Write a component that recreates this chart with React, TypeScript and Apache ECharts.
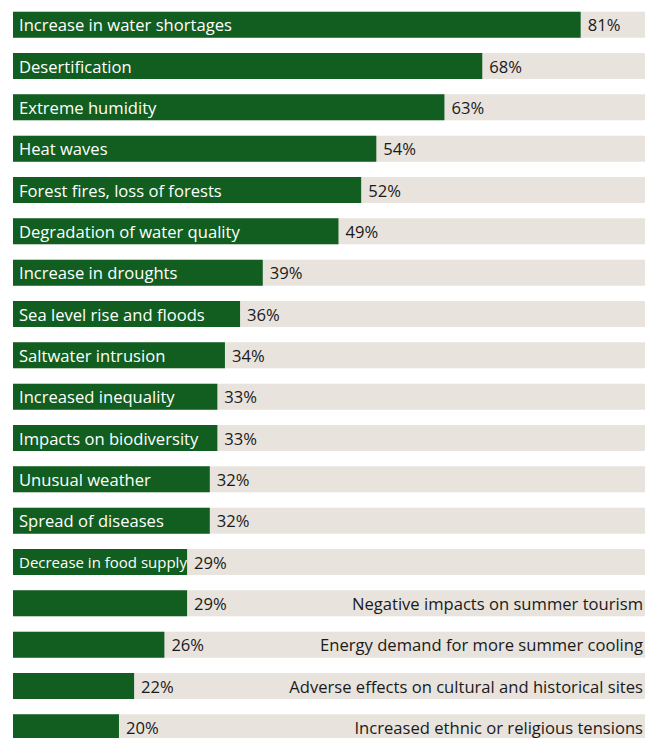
import React, { useEffect, useRef } from "react";
import * as echarts from "echarts";

const categories = [
  "Increase in water shortages",
  "Desertification",
  "Extreme humidity",
  "Heat waves",
  "Forest fires, loss of forests",
  "Degradation of water quality",
  "Increase in droughts",
  "Sea level rise and floods",
  "Saltwater intrusion",
  "Increased inequality",
  "Impacts on biodiversity",
  "Unusual weather",
  "Spread of diseases",
  "Decrease in food supply",
  "Negative impacts on summer tourism",
  "Energy demand for more summer cooling",
  "Adverse effects on cultural and historical sites",
  "Increased ethnic or religious tensions",
];

const values = [81, 68, 63, 54, 52, 49, 39, 36, 34, 33, 33, 32, 32, 29, 29, 26, 22, 20];

// the last four items carry their name on the right side of the track
const outsideNameCount = 4;
// names squeezed into a tight bar in the original
const condensedNames = ["Decrease in food supply"];

const AXIS_MIN = 6;
const AXIS_MAX = 89.5;

const GREEN = "#115e20";
const TRACK = "#e8e3dd";
const INK = "#1a1a1a";
const FONT = "'Open Sans', 'Noto Sans', sans-serif";
const FS = 16.6;

export default function App() {
  const ref = useRef<HTMLDivElement>(null);

  useEffect(() => {
    if (!ref.current) return;
    const chart = echarts.init(ref.current, undefined, { renderer: "svg" });
    const n = categories.length;
    const insideLimit = n - outsideNameCount;

    const greenData = values.map((v, i) =>
      condensedNames.includes(categories[i])
        ? { value: v, label: { fontSize: 15 } }
        : v
    );

    chart.setOption({
      animation: false,
      grid: { left: 13, right: 0, top: 4, bottom: 0, containLabel: false },
      xAxis: {
        type: "value",
        min: AXIS_MIN,
        max: AXIS_MAX,
        show: false,
      },
      yAxis: {
        type: "category",
        data: categories,
        inverse: true,
        show: false,
      },
      series: [
        {
          name: "track",
          type: "bar",
          barWidth: 26,
          barGap: "-100%",
          silent: true,
          z: 1,
          itemStyle: { color: TRACK },
          data: categories.map(() => AXIS_MAX),
          label: {
            show: true,
            position: "insideRight",
            distance: 2,
            color: INK,
            fontFamily: FONT,
            fontSize: FS,
            formatter: (p: any) => (p.dataIndex >= insideLimit ? categories[p.dataIndex] : ""),
          },
        },
        {
          name: "share",
          type: "bar",
          barWidth: 26,
          barGap: "-100%",
          z: 2,
          itemStyle: { color: GREEN },
          data: greenData,
          label: {
            show: true,
            position: "insideLeft",
            distance: 6,
            color: "#ffffff",
            fontFamily: FONT,
            fontSize: FS,
            formatter: (p: any) => (p.dataIndex < insideLimit ? categories[p.dataIndex] : ""),
          },
        },
        {
          name: "valueLabels",
          type: "bar",
          barWidth: 26,
          barGap: "-100%",
          z: 3,
          silent: true,
          itemStyle: { color: "rgba(0,0,0,0)" },
          data: values,
          label: {
            show: true,
            position: "right",
            distance: 7,
            color: INK,
            fontFamily: FONT,
            fontSize: FS,
            formatter: (p: any) => `${p.value}%`,
          },
        },
      ],
    });

    return () => chart.dispose();
  }, []);

  return (
    <div
      ref={ref}
      style={{ position: "absolute", left: 0, top: 0, width: 645, height: 748 }}
    />
  );
}
